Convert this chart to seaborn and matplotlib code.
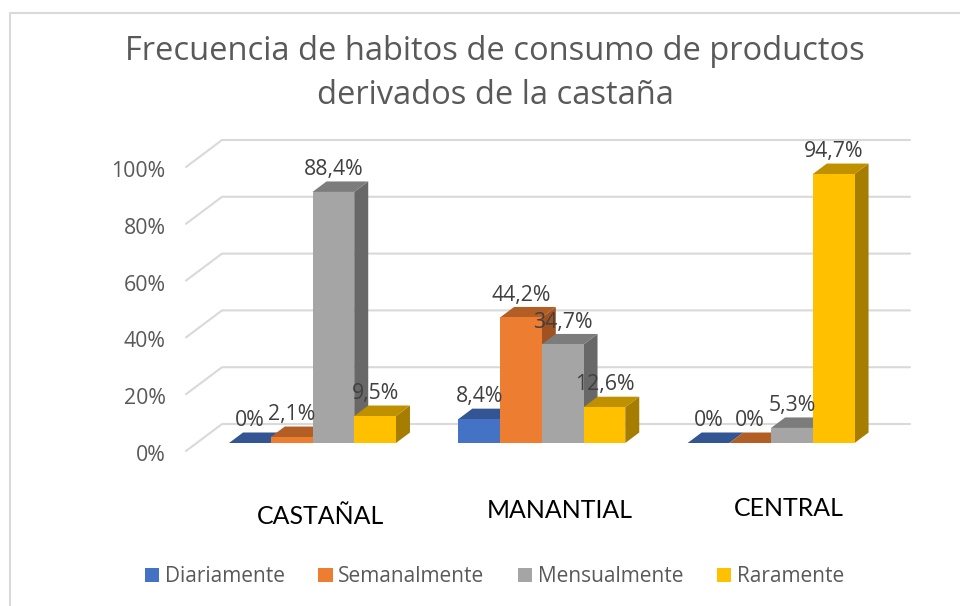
import matplotlib
matplotlib.use("Agg")
import matplotlib.pyplot as plt
from matplotlib.patches import Polygon, Rectangle
from matplotlib.transforms import ScaledTranslation
import pandas as pd
import seaborn as sns

# ── Data ─────────────────────────────────────────────
zones = ["CASTAÑAL", "MANANTIAL", "CENTRAL"]
frequencies = ["Diariamente", "Semanalmente", "Mensualmente", "Raramente"]
diariamente = [0, 8.4, 0]
semanalmente = [2.1, 44.2, 0]
mensualmente = [88.4, 34.7, 5.3]
raramente = [9.5, 12.6, 94.7]
value_labels = [
    ["0%", "8,4%", "0%"],
    ["2,1%", "44,2%", "0%"],
    ["88,4%", "34,7%", "5,3%"],
    ["9,5%", "12,6%", "94,7%"],
]
y_ticks = [0, 20, 40, 60, 80, 100]
y_tick_labels = ["0%", "20%", "40%", "60%", "80%", "100%"]
title = "Frecuencia de habitos de consumo de productos\nderivados de la castaña"

# ── Styles ───────────────────────────────────────────
front_colors = ["#4472C4", "#ED7D31", "#A5A5A5", "#FFC000"]
top_colors = ["#335593", "#B25E25", "#7C7C7C", "#BF9000"]
side_colors = ["#2B4A80", "#A05220", "#686868", "#A67D00"]
grid_color = "#D9D9D9"
border_color = "#D9D9D9"
text_color = "#595959"
label_color = "#404040"

W, H = 960, 606
PX_X = 229.3          # px per category
PX_Y = 2.84           # px per percent
BASE_Y = 443          # px of the front baseline
DEPTH_X = 14 / PX_X   # bar depth in data units
DEPTH_Y = 10.5 / PX_Y

df = pd.DataFrame({
    "zona": zones * 4,
    "frecuencia": [f for f in frequencies for _ in zones],
    "valor": diariamente + semanalmente + mensualmente + raramente,
})

sns.set_theme(style="white")
plt.rcParams["font.family"] = ["Open Sans", "DejaVu Sans"]

fig = plt.figure(figsize=(W / 100, H / 100), dpi=100)
fig.patch.set_facecolor("white")

# Axes placed so the categories and the baseline land where the reference has them
left = 312.5 - PX_X / 2
ax = fig.add_axes([left / W, (H - BASE_Y) / H, 3 * PX_X / W, 100 * PX_Y / H])
ax.patch.set_alpha(0)

sns.barplot(
    data=df, x="zona", y="valor", hue="frecuencia",
    order=zones, hue_order=frequencies, palette=front_colors,
    width=0.728, gap=0, saturation=1, ax=ax, legend=False,
)
ax.set_xlim(-0.5, 2.5)
ax.set_ylim(0, 100)
ax.set_xlabel("")
ax.set_ylabel("")
sns.despine(ax=ax, left=True, bottom=True)

# ── Back wall grid: diagonal on the left side, then flat across the wall ──
wall_dx = 36 / PX_X
wall_dy = 27 / PX_Y
wall_x0 = ax.get_xlim()[0] + (186 - left) / PX_X
wall_x1 = ax.get_xlim()[0] + (910 - left) / PX_X
front_shift = -8 / PX_Y
for v in y_ticks:
    ax.plot(
        [wall_x0, wall_x0 + wall_dx, wall_x1],
        [v + front_shift, v + front_shift + wall_dy, v + front_shift + wall_dy],
        color=grid_color, lw=1.5, clip_on=False, zorder=1,
    )

# ── 3D faces on each bar ──
for i, container in enumerate(ax.containers):
    for j, bar in enumerate(container):
        x0, w, h = bar.get_x(), bar.get_width(), bar.get_height()
        x1 = x0 + w
        z = 3 + i
        bar.set_zorder(z + 0.2)
        bar.set_edgecolor("none")
        side = Polygon(
            [(x1, 0), (x1 + DEPTH_X, DEPTH_Y), (x1 + DEPTH_X, h + DEPTH_Y), (x1, h)],
            closed=True, facecolor=side_colors[i], edgecolor="none",
            clip_on=False, zorder=z,
        )
        top = Polygon(
            [(x0, h), (x0 + DEPTH_X, h + DEPTH_Y), (x1 + DEPTH_X, h + DEPTH_Y), (x1, h)],
            closed=True, facecolor=top_colors[i], edgecolor="none",
            clip_on=False, zorder=z + 0.1,
        )
        if h > 0:
            ax.add_patch(side)
        ax.add_patch(top)
        ax.annotate(
            value_labels[i][j], (x0 + w / 2, h), xytext=(0, 16), textcoords="offset points",
            ha="center", va="center", fontsize=15.3, color=label_color,
            annotation_clip=False, zorder=20,
        )

# ── Axis labels ──
ax.set_xticks([])
ax.set_yticks(y_ticks)
ax.set_yticklabels(y_tick_labels, fontsize=15.3, color=text_color)
ax.tick_params(axis="y", length=0, pad=0)
shift = ScaledTranslation((165.5 - left) / 100, -10 / 100, fig.dpi_scale_trans)
for lab in ax.get_yticklabels():
    lab.set_transform(lab.get_transform() + shift)

# Category labels sit at slightly different heights in the reference
zone_offsets = [(8.5, -74), (17.5, -68), (18, -66)]
for j, zone in enumerate(zones):
    dx, dy = zone_offsets[j]
    ax.annotate(
        zone, (j, 0), xytext=(dx * 0.72, dy * 0.72), textcoords="offset points",
        ha="center", va="center", fontsize=17.9, color="#000000",
        family=["Lato", "DejaVu Sans"], annotation_clip=False,
    )

fig.text(495 / W, 1 - 73.5 / H, title, ha="center", va="center", fontsize=23.5,
         color=text_color, linespacing=1.45)

# ── Legend ──
handles = [Rectangle((0, 0), 1, 1, facecolor=c, edgecolor="none") for c in front_colors]
fig.legend(
    handles, frequencies, loc="center", bbox_to_anchor=(494.5 / W, 1 - 577 / H),
    ncol=4, frameon=False, fontsize=15, labelcolor=text_color,
    handlelength=0.68, handleheight=0.68, handletextpad=0.28, columnspacing=1.6,
)

# ── Chart frame (runs past the bottom of the picture crop) ──
fig.add_artist(plt.Line2D([10 / W, 10 / W, 960 / W],
                          [0, 1 - 13 / H, 1 - 13 / H],
                          color=border_color, lw=1.5))

fig.savefig("out.png", dpi=100)
